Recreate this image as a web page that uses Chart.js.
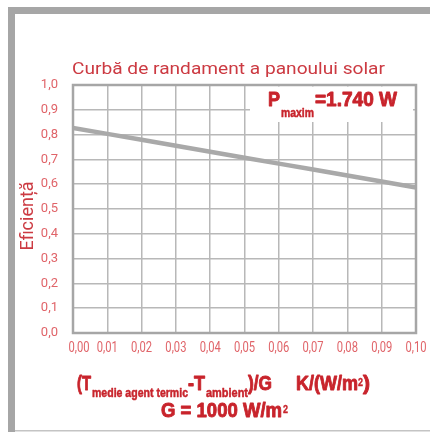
<!DOCTYPE html>
<html>
<head>
<meta charset="utf-8">
<script src="https://cdn.jsdelivr.net/npm/chart.js@4.4.1/dist/chart.umd.min.js"></script>
<style>
  html, body { margin: 0; padding: 0; background: #fff; }
  canvas { display: block; }
</style>
</head>
<body>
<canvas id="efficiencyChart" width="430" height="432"></canvas>
<script>
// data
const xValues = [0.00, 0.01, 0.02, 0.03, 0.04, 0.05, 0.06, 0.07, 0.08, 0.09, 0.10];
const efficiency = [0.827, 0.803, 0.779, 0.755, 0.731, 0.707, 0.683, 0.659, 0.635, 0.611, 0.587];
const chartTitle = "Curbă de randament a panoului solar";
const yTitle = "Eficiență";
const powerText = ["P", "maxim", "=1.740 W"];
const xTitleParts = ["(T", "medie agent termic", "-T", "ambient", ")/G", "K/(W/m", "2", ")"];
const irradianceParts = ["G = 1000 W/m", "2"];

const RED = "#c8242c";
const LIGHT_RED = "#e06469";
const GRAY = "#a6a6a6";

function bold(size) { return "bold " + size + "px 'Liberation Sans', Arial, sans-serif"; }

// draw text squeezed to a given width (condensed look); heavy adds a thin outline
function drawFit(ctx, text, x, y, font, width, heavy) {
  ctx.font = font;
  const w = ctx.measureText(text).width;
  ctx.save();
  ctx.translate(x, y);
  ctx.scale(width / w, 1);
  ctx.fillText(text, 0, 0);
  if (heavy) {
    ctx.strokeStyle = ctx.fillStyle;
    ctx.lineWidth = heavy;
    ctx.lineJoin = "round";
    ctx.strokeText(text, 0, 0);
  }
  ctx.restore();
}

const fmtX = v => v.toFixed(2).replace(".", ",");

const decorations = {
  id: "decorations",
  beforeDraw(chart) {
    const ctx = chart.ctx;
    ctx.save();
    ctx.fillStyle = "#fff";
    ctx.fillRect(0, 0, chart.width, chart.height);
    // outer frame
    ctx.fillStyle = GRAY;
    ctx.fillRect(8, 7, 422, 7);
    ctx.fillRect(8, 7, 7, 425);
    ctx.fillStyle = "#c4c4c4";
    ctx.fillRect(15, 430, 415, 1.5);
    ctx.restore();
  },
  beforeDatasetsDraw(chart) {
    const ctx = chart.ctx;
    const a = chart.chartArea;
    ctx.save();
    // white box behind the power label
    ctx.fillStyle = "#fff";
    ctx.fillRect(a.left + 177, a.top + 1.5, 163, 122 - a.top - 1.5);
    ctx.restore();
  },
  afterDraw(chart) {
    const ctx = chart.ctx;
    const a = chart.chartArea;
    const xs = chart.scales.x;
    ctx.save();
    // plot frame
    ctx.strokeStyle = GRAY;
    ctx.lineWidth = 2.5;
    ctx.strokeRect(a.left, a.top, a.right - a.left, a.bottom - a.top);

    // x tick labels, condensed, placed by the x scale
    ctx.fillStyle = LIGHT_RED;
    ctx.textBaseline = "alphabetic";
    ctx.textAlign = "center";
    ctx.font = "14px Roboto, sans-serif";
    xs.ticks.forEach((t, i) => {
      const px = xs.getPixelForValue(t.value) + (i === 0 ? 6 : 0);
      ctx.save();
      ctx.translate(px, 352);
      ctx.scale(0.8, 1);
      ctx.fillText(fmtX(t.value), 0, 0);
      ctx.restore();
    });

    ctx.textAlign = "left";

    // title
    ctx.fillStyle = "#cc3a42";
    drawFit(ctx, chartTitle, 72, 74, "17px Roboto, sans-serif", 313);

    // y title
    ctx.save();
    ctx.translate(33, 216);
    ctx.rotate(-Math.PI / 2);
    ctx.textAlign = "center";
    ctx.font = "18px Roboto, sans-serif";
    ctx.fillText(yTitle, 0, 0);
    ctx.restore();

    // power label
    ctx.fillStyle = RED;
    drawFit(ctx, powerText[0], 268, 106, bold(20), 12, 0.9);
    drawFit(ctx, powerText[1], 281, 117, bold(13), 33, 0.5);
    drawFit(ctx, powerText[2], 315, 106, bold(20), 82, 0.9);

    // x axis title
    const p = xTitleParts;
    drawFit(ctx, p[0], 77, 390, bold(20), 14, 0.9);
    drawFit(ctx, p[1], 92, 397, bold(13), 96, 0.5);
    drawFit(ctx, p[2], 188, 390, bold(20), 17, 0.9);
    drawFit(ctx, p[3], 206, 397, bold(13), 42, 0.5);
    drawFit(ctx, p[4], 248, 390, bold(20), 24, 0.9);
    drawFit(ctx, p[5], 296, 390, bold(20), 62, 0.9);
    drawFit(ctx, p[6], 358, 386, bold(10), 5, 0.3);
    drawFit(ctx, p[7], 363, 390, bold(20), 7, 0.9);

    // irradiance
    drawFit(ctx, irradianceParts[0], 161, 417, bold(20), 121, 0.9);
    drawFit(ctx, irradianceParts[1], 283, 413, bold(10), 5, 0.3);
    ctx.restore();
  }
};

new Chart(document.getElementById("efficiencyChart"), {
  type: "line",
  data: {
    datasets: [{
      data: xValues.map((x, i) => ({ x: x, y: efficiency[i] })),
      borderColor: "#a9a9a9",
      borderWidth: 4.5,
      pointRadius: 0,
      tension: 0
    }]
  },
  options: {
    responsive: false,
    animation: false,
    layout: { padding: { left: 0, right: 14, top: 85, bottom: 0 } },
    plugins: { legend: { display: false }, tooltip: { enabled: false } },
    scales: {
      x: {
        type: "linear",
        min: 0,
        max: 0.1,
        afterFit: s => { s.height = 99; },
        afterBuildTicks: s => { s.ticks = xValues.map(v => ({ value: v })); },
        grid: { color: "#b8b8b8", lineWidth: 1.5, drawTicks: false },
        border: { display: false },
        ticks: { display: false }
      },
      y: {
        min: 0,
        max: 1,
        afterFit: s => { s.width = 73; },
        grid: { color: "#b8b8b8", lineWidth: 1.5, drawTicks: false },
        border: { display: false },
        ticks: {
          stepSize: 0.1,
          padding: 15,
          color: LIGHT_RED,
          font: { family: "Roboto, sans-serif", size: 13 },
          callback: v => v.toFixed(1).replace(".", ",")
        }
      }
    }
  },
  plugins: [decorations]
});
</script>
</body>
</html>
